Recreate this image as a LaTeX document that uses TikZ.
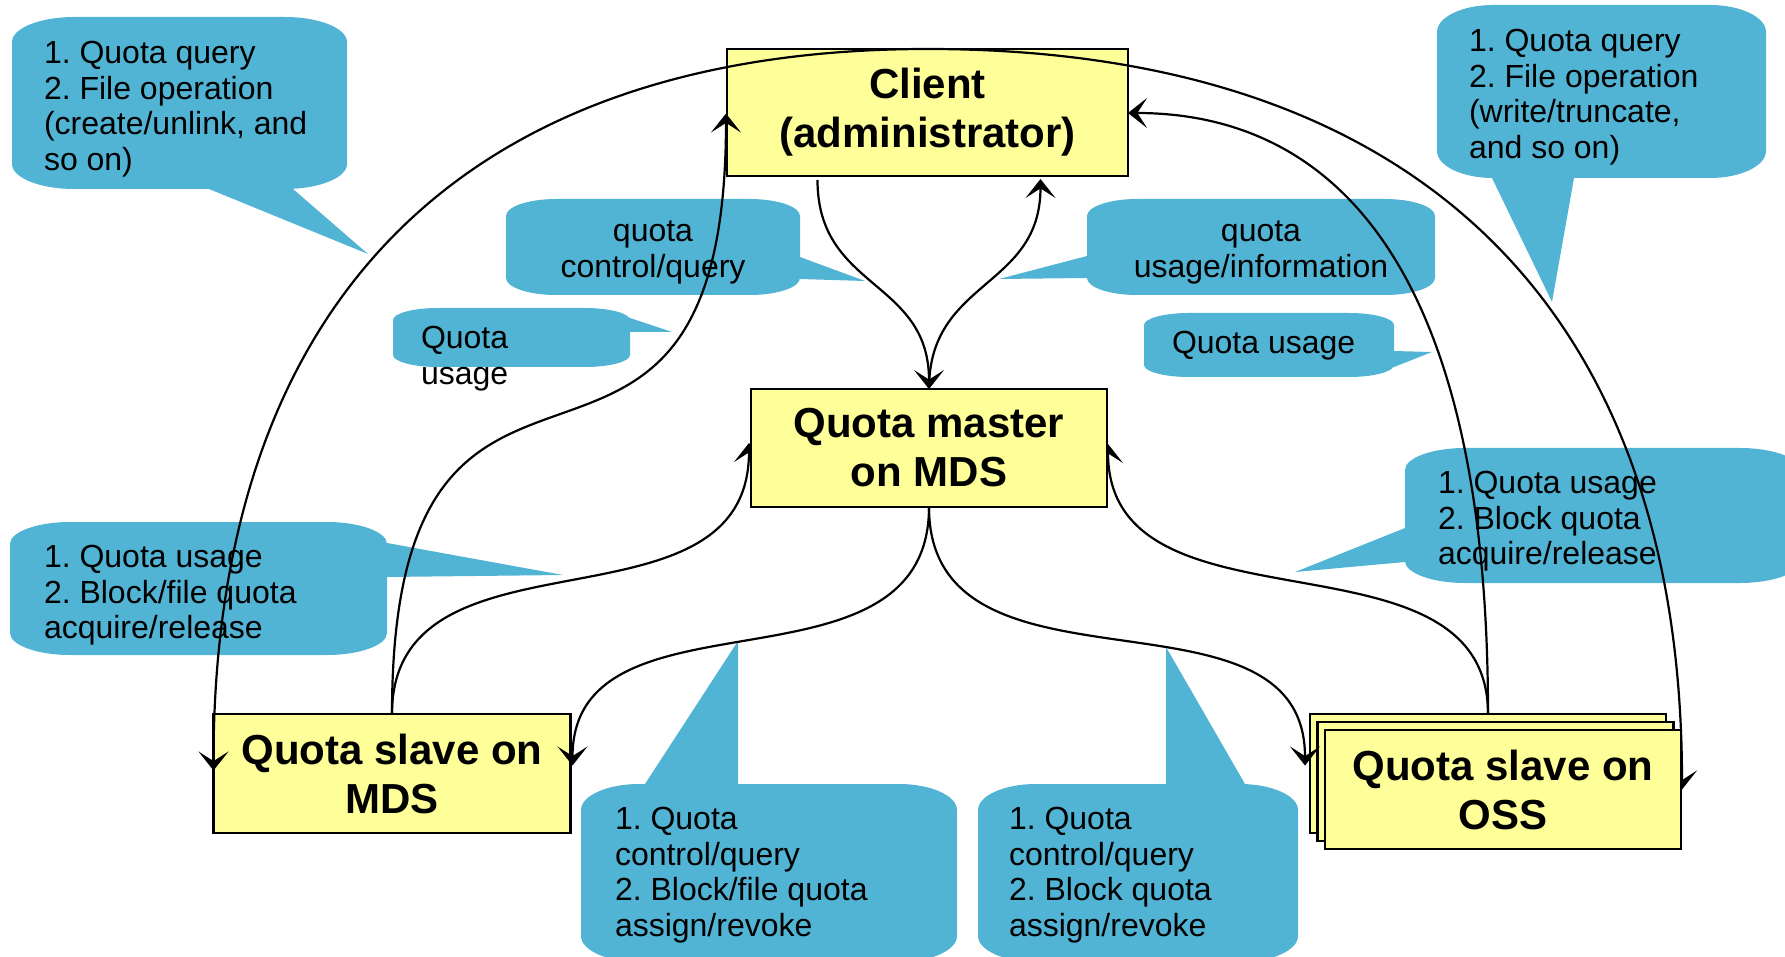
\documentclass[tikz,border=0pt]{standalone}
\usepackage{fontspec}
\setmainfont{Liberation Sans}
\usetikzlibrary{arrows.meta,calc}
\definecolor{bubblue}{RGB}{82,180,212}
\definecolor{boxyel}{RGB}{255,255,153}
\pgfdeclarelayer{bg}
\pgfdeclarelayer{lo}
\pgfdeclarelayer{osslayer}
\pgfdeclarelayer{fg}
\pgfsetlayers{bg,lo,main,osslayer,fg}
\frenchspacing
\newcommand\bubble[6]{%
  \fill[bub] ({#1},{#2+#6}) .. controls ({#1},{#2+0.45*#6}) and ({#1+0.45*#5},{#2}) .. ({#1+#5},{#2})
  -- ({#3-#5},{#2}) .. controls ({#3-0.45*#5},{#2}) and ({#3},{#2+0.45*#6}) .. ({#3},{#2+#6})
  -- ({#3},{#4-#6}) .. controls ({#3},{#4-0.45*#6}) and ({#3-0.45*#5},{#4}) .. ({#3-#5},{#4})
  -- ({#1+#5},{#4}) .. controls ({#1+0.45*#5},{#4}) and ({#1},{#4-0.45*#6}) .. ({#1},{#4-#6}) -- cycle;}
\begin{document}
\begin{tikzpicture}[x=0.5pt,y=-0.5pt,
  bub/.style={fill=bubblue},
  btxt/.style={inner sep=0pt,outer sep=0pt,font=\fontsize{16}{17.85}\selectfont,align=left,anchor=north west},
  ctxt/.style={inner sep=0pt,outer sep=0pt,font=\fontsize{16}{17.85}\selectfont,align=center,anchor=north},
  qbox/.style={draw=black,line width=1.3pt,fill=boxyel,inner sep=0pt,outer sep=0pt,
    font=\fontsize{21}{24.5}\selectfont\bfseries,align=center},
  conn/.style={line width=1.1pt,draw=black},
  arr/.style={-{Stealth[length=9.5pt,width=15pt,inset=4.8pt]}}]
\path[use as bounding box] (0,0) rectangle (1785,957);

% ---------- callouts ----------
\begin{pgfonlayer}{bg}
  % A top left
  \bubble{12}{17}{347}{189}{62}{25}
  \fill[bub] (209,189) -- (368,254) -- (293,189) -- (293,180) -- (209,180) -- cycle;
  % B top right
  \bubble{1437}{5}{1766}{178}{56}{27}
  \fill[bub] (1492,178) -- (1552,302) -- (1574,178) -- (1574,170) -- (1492,170) -- cycle;
  % C quota control/query
  \bubble{506}{199}{800}{295}{50}{17}
  \fill[bub] (800,257) -- (865,281) -- (800,279) -- (790,279) -- (790,257) -- cycle;
  % D quota usage/information
  \bubble{1087}{199}{1435}{295}{50}{17}
  \fill[bub] (1087,256) -- (999,279) -- (1087,278) -- (1097,278) -- (1097,256) -- cycle;
  % E quota usage (left)
  \bubble{393}{308}{630}{367}{45}{12}
  \fill[bub] (630,318) -- (672,332) -- (630,332) -- (620,332) -- (620,318) -- cycle;
  % F quota usage (right)
  \bubble{1144}{313}{1394}{377}{45}{12}
  \fill[bub] (1394,351) -- (1432,352) -- (1394,367) -- (1384,367) -- (1384,351) -- cycle;
  % G left middle
  \bubble{10}{522}{387}{655}{60}{22}
  \fill[bub] (387,543) -- (563,575) -- (387,577) -- (377,577) -- (377,543) -- cycle;
  % H right middle
  \bubble{1405}{448}{1800}{583}{60}{22}
  \fill[bub] (1405,528) -- (1295,572) -- (1405,562) -- (1415,562) -- (1415,528) -- cycle;
  % I bottom left
  \bubble{581}{784}{957}{962}{58}{26}
  \fill[bub] (645,784) -- (738,641) -- (738,784) -- (738,794) -- (645,794) -- cycle;
  % J bottom right
  \bubble{978}{784}{1298}{962}{58}{26}
  \fill[bub] (1166,784) -- (1166,647) -- (1245,784) -- (1245,794) -- (1166,794) -- cycle;

  \node[btxt] (tA) at (44,41) {1. Quota query\\2. File operation\\(create/unlink, and\\so on)};
  \node[btxt] (tB) at (1469,29) {1. Quota query\\2. File operation\\(write/truncate,\\and so on)};
  \node[ctxt] (tC) at (653,221) {quota\\control/query};
  \node[ctxt] (tD) at (1261,221) {quota\\usage/information};
  \node[btxt] (tE) at (421,326) {Quota\\usage};
  \node[btxt] (tF) at (1172,331) {Quota usage};
  \node[btxt] (tG) at (44,545) {1. Quota usage\\2. Block/file quota\\acquire/release};
  \node[btxt] (tH) at (1438,471) {1. Quota usage\\2. Block quota\\acquire/release};
  \node[btxt] (tI) at (615,807) {1. Quota\\control/query\\2. Block/file quota\\assign/revoke};
  \node[btxt] (tJ) at (1009,807) {1. Quota\\control/query\\2. Block quota\\assign/revoke};
\end{pgfonlayer}

% ---------- boxes ----------
\node[qbox,minimum width=200.5pt,minimum height=63.5pt] (client) at (927.5,112.5) {Client\\(administrator)};
\node[qbox,minimum width=178pt,minimum height=59pt] (master) at (929,448) {Quota master\\on MDS};
\node[qbox,minimum width=178.5pt,minimum height=59.5pt] (smds) at (392,773.5) {Quota slave on\\MDS};
\begin{pgfonlayer}{osslayer}
  \node[qbox,minimum width=178pt,minimum height=59.5pt] (oss3) at (1488,773.5) {};
  \node[qbox,minimum width=178pt,minimum height=59.5pt] (oss2) at (1495.5,781.5) {};
  \node[qbox,minimum width=178pt,minimum height=59.5pt] (oss1) at (1503,789.5) {Quota slave on\\OSS};
\end{pgfonlayer}

% ---------- connectors behind the master box ----------
\begin{pgfonlayer}{lo}
  \draw[conn,arr] (smds.north) .. controls +(0,-198) and +(0,200) .. ($(master.west)+(-2,-5)$);
  \draw[conn,arr] (oss3.north) .. controls +(0,-195) and +(0,200) .. ($(master.east)+(1,-4)$);
\end{pgfonlayer}

% ---------- big arc to the OSS (behind the OSS boxes) ----------
\draw[conn,arr] (client.north) .. controls +(490,0) and +(0,-481) .. ($(oss1.east)+(1,0)$);

% ---------- connectors on top ----------
\begin{pgfonlayer}{fg}
  \draw[conn,arr] (client.north) .. controls +(-464,0) and +(0,-469) .. ($(smds.west)+(0,-3)$);
  \draw[conn,arr] ($(client.south)+(-110,4)$) .. controls +(0,110) and +(0,-110) .. (master.north);
  \draw[conn,arr] (master.north) .. controls +(0,-110) and +(0,110) .. ($(client.south)+(113,3)$);
  \draw[conn,arr] (smds.north) .. controls +(0,-478) and +(0,477) .. ($(client.west)+(-1,1)$);
  \draw[conn,arr] (master.south) .. controls +(0,199) and +(0,-187) .. ($(smds.east)+(2,-8)$);
  \draw[conn,arr] (master.south) .. controls +(0,206) and +(0,-194) .. ($(oss3.west)+(-5,-8)$);
  \draw[conn,arr] (oss3.north) .. controls +(0,-472) and +(189,0) .. ($(client.east)+(0,0.5)$);
\end{pgfonlayer}
\end{tikzpicture}
\end{document}
